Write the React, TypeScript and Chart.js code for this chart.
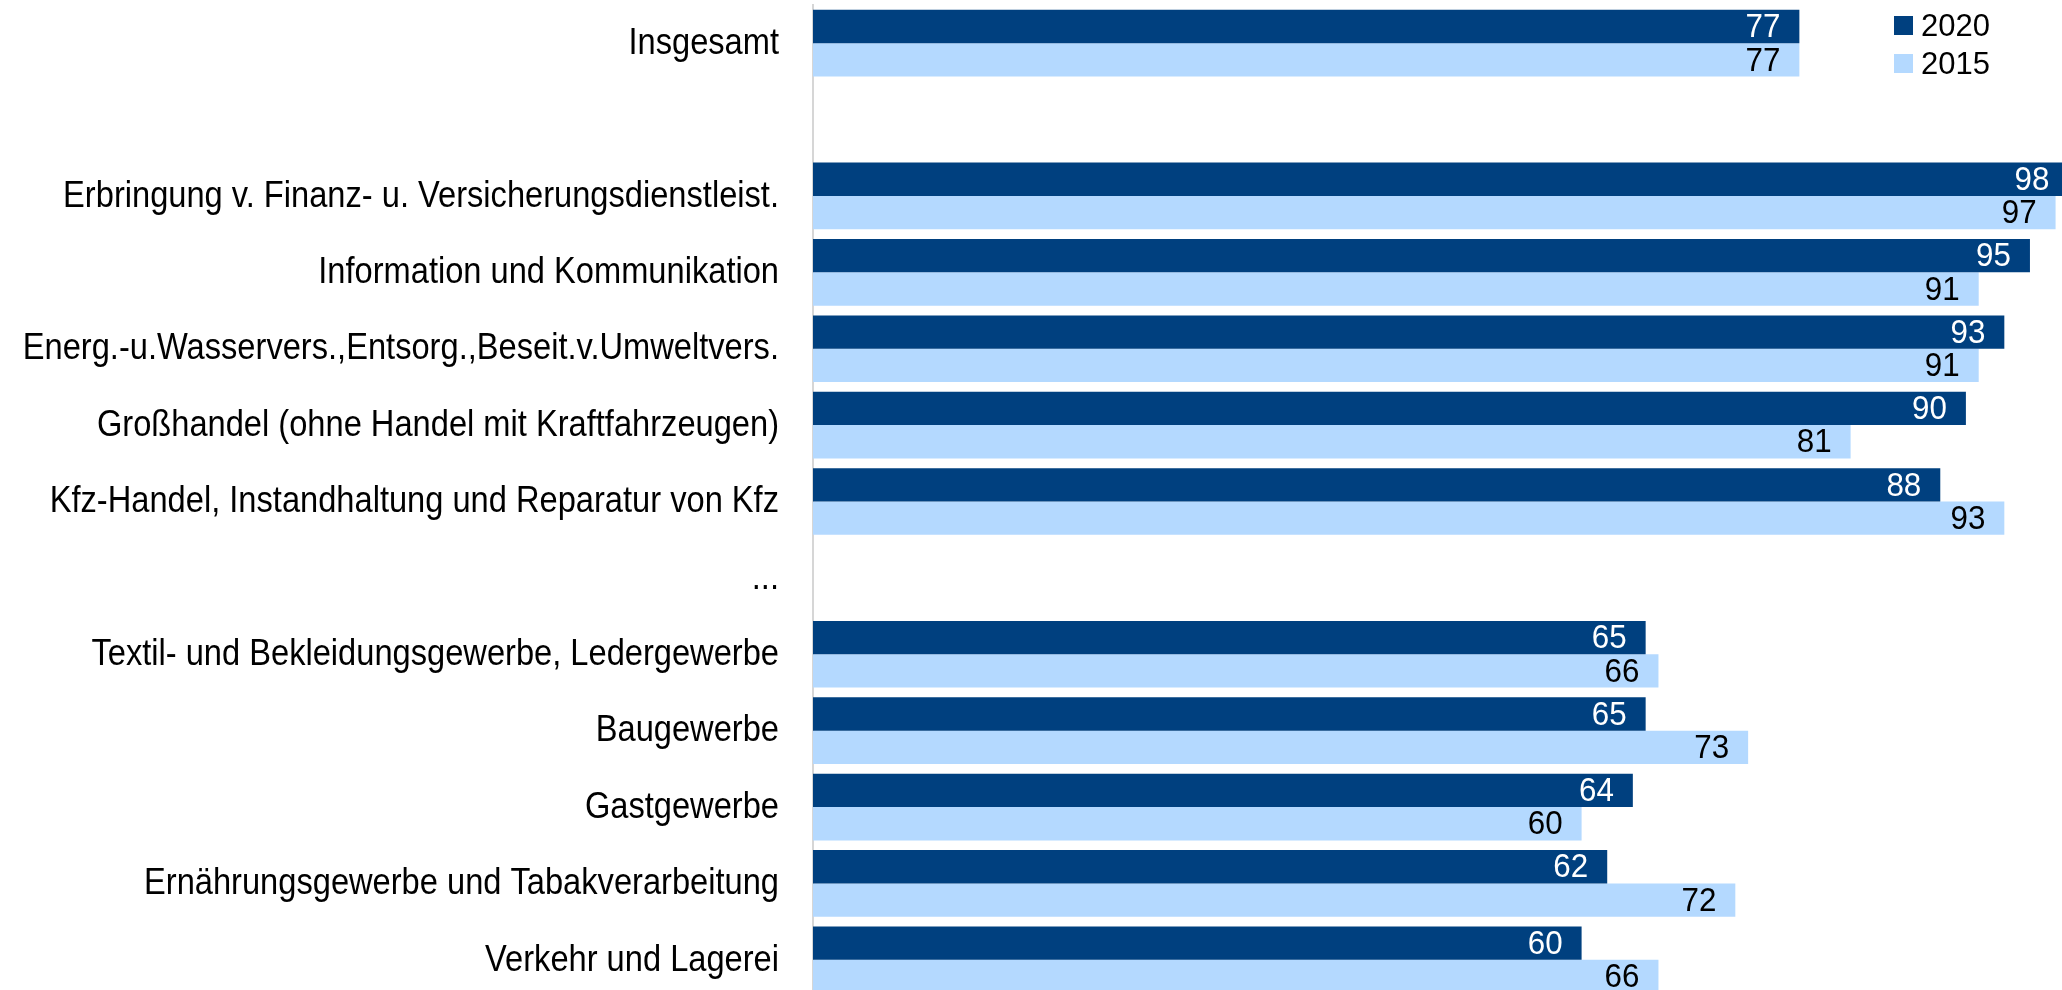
import React, { useEffect, useRef } from "react";
import { Chart, registerables } from "chart.js";

Chart.register(...registerables);

const categories = [
  "Insgesamt",
  "",
  "Erbringung v. Finanz- u. Versicherungsdienstleist.",
  "Information und Kommunikation",
  "Energ.-u.Wasservers.,Entsorg.,Beseit.v.Umweltvers.",
  "Großhandel (ohne Handel mit Kraftfahrzeugen)",
  "Kfz-Handel, Instandhaltung und Reparatur von Kfz",
  "...",
  "Textil- und Bekleidungsgewerbe, Ledergewerbe",
  "Baugewerbe",
  "Gastgewerbe",
  "Ernährungsgewerbe und Tabakverarbeitung",
  "Verkehr und Lagerei",
];

const values2020 = [77, null, 98, 95, 93, 90, 88, null, 65, 65, 64, 62, 60];
const values2015 = [77, null, 97, 91, 91, 81, 93, null, 66, 73, 60, 72, 66];

const seriesNames = ["2020", "2015"];
const seriesColors = ["#00407f", "#b4d9ff"];
const valueLabelColors = ["#ffffff", "#000000"];

const FONT = "'Liberation Sans', Arial, Helvetica, sans-serif";
const CANVAS_W = 2094;
const CANVAS_H = 998;

export default function App() {
  const ref = useRef<HTMLCanvasElement | null>(null);

  useEffect(() => {
    const canvas = ref.current;
    if (!canvas) return;

    const textPlugin = {
      id: "textPlugin",
      afterDatasetsDraw(chart: any) {
        const ctx = chart.ctx;
        chart.data.datasets.forEach((ds: any, di: number) => {
          const meta = chart.getDatasetMeta(di);
          meta.data.forEach((el: any, i: number) => {
            const v = ds.data[i];
            if (v === null || v === undefined) return;
            ctx.save();
            ctx.translate(el.x - 19, el.y + 10.7);
            ctx.scale(0.95, 1);
            ctx.font = `33px ${FONT}`;
            ctx.fillStyle = valueLabelColors[di];
            ctx.textAlign = "right";
            ctx.textBaseline = "alphabetic";
            ctx.fillText(String(v), 0, 0);
            ctx.restore();
          });
        });
      },
      afterDraw(chart: any) {
        const ctx = chart.ctx;
        const yScale = chart.scales.y;
        const right = chart.chartArea.left - 34;
        // category labels (condensed)
        categories.forEach((label, i) => {
          if (!label) return;
          const y = yScale.getPixelForValue(i);
          ctx.save();
          ctx.translate(right, y + 10.7);
          ctx.scale(0.882, 1);
          ctx.font = `37px ${FONT}`;
          ctx.fillStyle = "#000000";
          ctx.textAlign = "right";
          ctx.textBaseline = "alphabetic";
          ctx.fillText(label, 0, 0);
          ctx.restore();
        });
        // legend
        const lx = 1894;
        const ly = [16, 54];
        seriesNames.forEach((name, i) => {
          ctx.save();
          ctx.fillStyle = seriesColors[i];
          ctx.fillRect(lx, ly[i], 19, 19);
          ctx.font = `31px ${FONT}`;
          ctx.fillStyle = "#000000";
          ctx.textAlign = "left";
          ctx.textBaseline = "alphabetic";
          ctx.fillText(name, lx + 27, ly[i] + 20);
          ctx.restore();
        });
      },
    };

    const chart = new Chart(canvas, {
      type: "bar",
      data: {
        labels: categories,
        datasets: [
          {
            label: seriesNames[0],
            data: values2020,
            backgroundColor: seriesColors[0],
            borderWidth: 0,
            categoryPercentage: 0.873,
            barPercentage: 1,
          },
          {
            label: seriesNames[1],
            data: values2015,
            backgroundColor: seriesColors[1],
            borderWidth: 0,
            categoryPercentage: 0.873,
            barPercentage: 1,
          },
        ],
      },
      options: {
        indexAxis: "y",
        responsive: false,
        maintainAspectRatio: false,
        animation: false,
        devicePixelRatio: 1,
        layout: { padding: { top: 5, left: 0, right: 0, bottom: 0 } },
        plugins: {
          legend: { display: false },
          tooltip: { enabled: false },
        },
        scales: {
          x: {
            display: false,
            min: 0,
            max: 100,
          },
          y: {
            type: "category",
            ticks: { display: false },
            grid: { display: false, drawTicks: false },
            border: { display: true, color: "#d6d6d6", width: 2 },
            afterFit(scale: any) {
              scale.width = 813;
            },
          },
        },
      },
      plugins: [textPlugin],
    } as any);

    return () => {
      chart.destroy();
    };
  }, []);

  return (
    <div
      style={{
        position: "absolute",
        left: 0,
        top: 0,
        width: 2062,
        height: 990,
        overflow: "hidden",
        background: "#ffffff",
      }}
    >
      <canvas
        ref={ref}
        width={CANVAS_W}
        height={CANVAS_H}
        style={{ width: CANVAS_W, height: CANVAS_H, display: "block" }}
      />
    </div>
  );
}
